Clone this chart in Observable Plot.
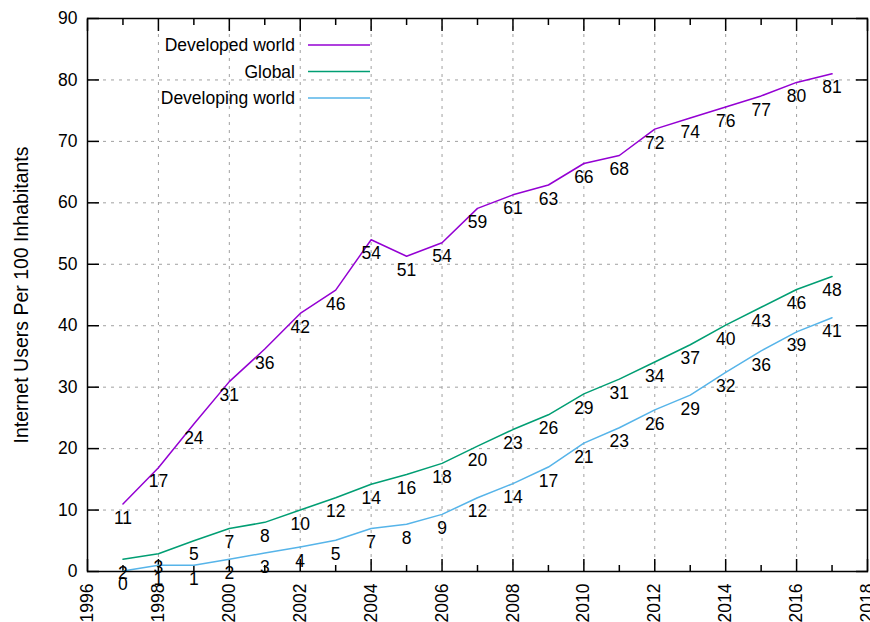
<!DOCTYPE html>
<html>
<head>
<meta charset="utf-8">
<script src="https://cdn.jsdelivr.net/npm/d3@7"></script>
<script src="https://cdn.jsdelivr.net/npm/@observablehq/plot@0.6"></script>
<style>
  html, body { margin: 0; padding: 0; background: white; }
  #wrap { position: relative; width: 870px; height: 622px; overflow: hidden; }
  #legend { position: absolute; left: 0; top: 0; pointer-events: none; }
</style>
</head>
<body>
<div id="wrap"></div>
<script>
// ---- data ----
const years = [1997,1998,1999,2000,2001,2002,2003,2004,2005,2006,2007,2008,2009,2010,2011,2012,2013,2014,2015,2016,2017];
const developed  = [11.0,16.9,24.0,30.9,36.2,42.0,45.8,54.0,51.3,53.5,59.1,61.3,62.9,66.4,67.7,72.0,73.8,75.6,77.4,79.6,81.0];
const globalVals = [2.0,2.9,5.0,7.0,8.0,10.0,12.0,14.2,15.8,17.6,20.4,23.1,25.5,28.9,31.3,34.1,36.9,40.1,43.0,45.9,48.0];
const developing = [0.1,1.0,1.0,2.0,3.0,4.0,5.1,7.0,7.7,9.3,12.0,14.3,17.0,20.9,23.4,26.3,28.7,32.4,35.9,39.0,41.3];
const seriesNames = ["Developed world", "Global", "Developing world"];
const seriesColors = ["#9400d3", "#009e73", "#56b4e9"];
const xMajorTicks = [1996,1998,2000,2002,2004,2006,2008,2010,2012,2014,2016,2018];
const xMinorTicks = [1997,1999,2001,2003,2005,2007,2009,2011,2013,2015,2017];
const yTicks = [0,10,20,30,40,50,60,70,80,90];
const yLabel = "Internet Users Per 100 Inhabitants";

const seriesValues = [developed, globalVals, developing];
const rows = [];
seriesNames.forEach((name, s) => {
  years.forEach((yr, i) => rows.push({series: name, year: yr, value: seriesValues[s][i]}));
});

const blank = () => "";
const font = "'Liberation Sans', Arial, Helvetica, sans-serif";

const chart = Plot.plot({
  width: 870,
  height: 622,
  marginLeft: 87,
  marginRight: 3,
  marginTop: 18,
  marginBottom: 51,
  style: {fontFamily: font, fontSize: "17.5px", color: "black", background: "white"},
  x: {domain: [1996, 2018]},
  y: {domain: [0, 90]},
  color: {domain: seriesNames, range: seriesColors},
  marks: [
    Plot.gridX(xMajorTicks, {stroke: "#a0a0a0", strokeOpacity: 1, strokeDasharray: "3,5"}),
    Plot.gridY(yTicks, {stroke: "#a0a0a0", strokeOpacity: 1, strokeDasharray: "3,5"}),
    Plot.axisX({ticks: xMajorTicks, tickSize: 0, tickPadding: 12, tickRotate: -90, tickFormat: d => String(d), label: null, fontSize: 17.5}),
    Plot.axisX({ticks: xMajorTicks, tickSize: -12, tickFormat: blank, label: null, strokeWidth: 1.5}),
    Plot.axisX({ticks: xMinorTicks, tickSize: -6, tickFormat: blank, label: null, strokeWidth: 1.5}),
    Plot.axisX({anchor: "top", ticks: xMajorTicks, tickSize: -12, tickFormat: blank, label: null, strokeWidth: 1.5}),
    Plot.axisX({anchor: "top", ticks: xMinorTicks, tickSize: -6, tickFormat: blank, label: null, strokeWidth: 1.5}),
    Plot.axisY({ticks: yTicks, tickSize: 0, tickPadding: 10, fontSize: 17.5, label: null}),
    Plot.axisY({ticks: yTicks, tickSize: 0, tickFormat: blank, fontSize: 19.5, label: yLabel, labelAnchor: "center", labelArrow: "none", labelOffset: 73}),
    Plot.axisY({ticks: yTicks, tickSize: -12, tickFormat: blank, label: null, strokeWidth: 1.5}),
    Plot.axisY({anchor: "right", ticks: yTicks, tickSize: -12, tickFormat: blank, label: null, strokeWidth: 1.5}),
    Plot.line(rows, {x: "year", y: "value", stroke: "series", z: "series", strokeWidth: 1.5}),
    Plot.text(rows, {x: "year", y: "value", text: d => String(Math.round(d.value)), dy: 14, fill: "black", fontSize: 17.5}),
    Plot.frame({stroke: "black", strokeWidth: 1.5})
  ]
});
document.getElementById("wrap").appendChild(chart);

// ---- legend (inside the plot area, top-left, gnuplot style) ----
const leg = d3.select("#wrap").append("svg")
  .attr("id", "legend").attr("width", 870).attr("height", 622)
  .style("font-family", font).style("font-size", "17.5px");
const g = leg.selectAll("g").data(seriesNames).join("g")
  .attr("transform", (d, i) => `translate(0, ${45 + i * 26.5})`);
g.append("text").attr("x", 295).attr("dy", "0.35em").attr("text-anchor", "end").attr("fill", "black").text(d => d);
g.append("line").attr("x1", 308).attr("x2", 370).attr("stroke", (d, i) => seriesColors[i]).attr("stroke-width", 1.5);
</script>
</body>
</html>
